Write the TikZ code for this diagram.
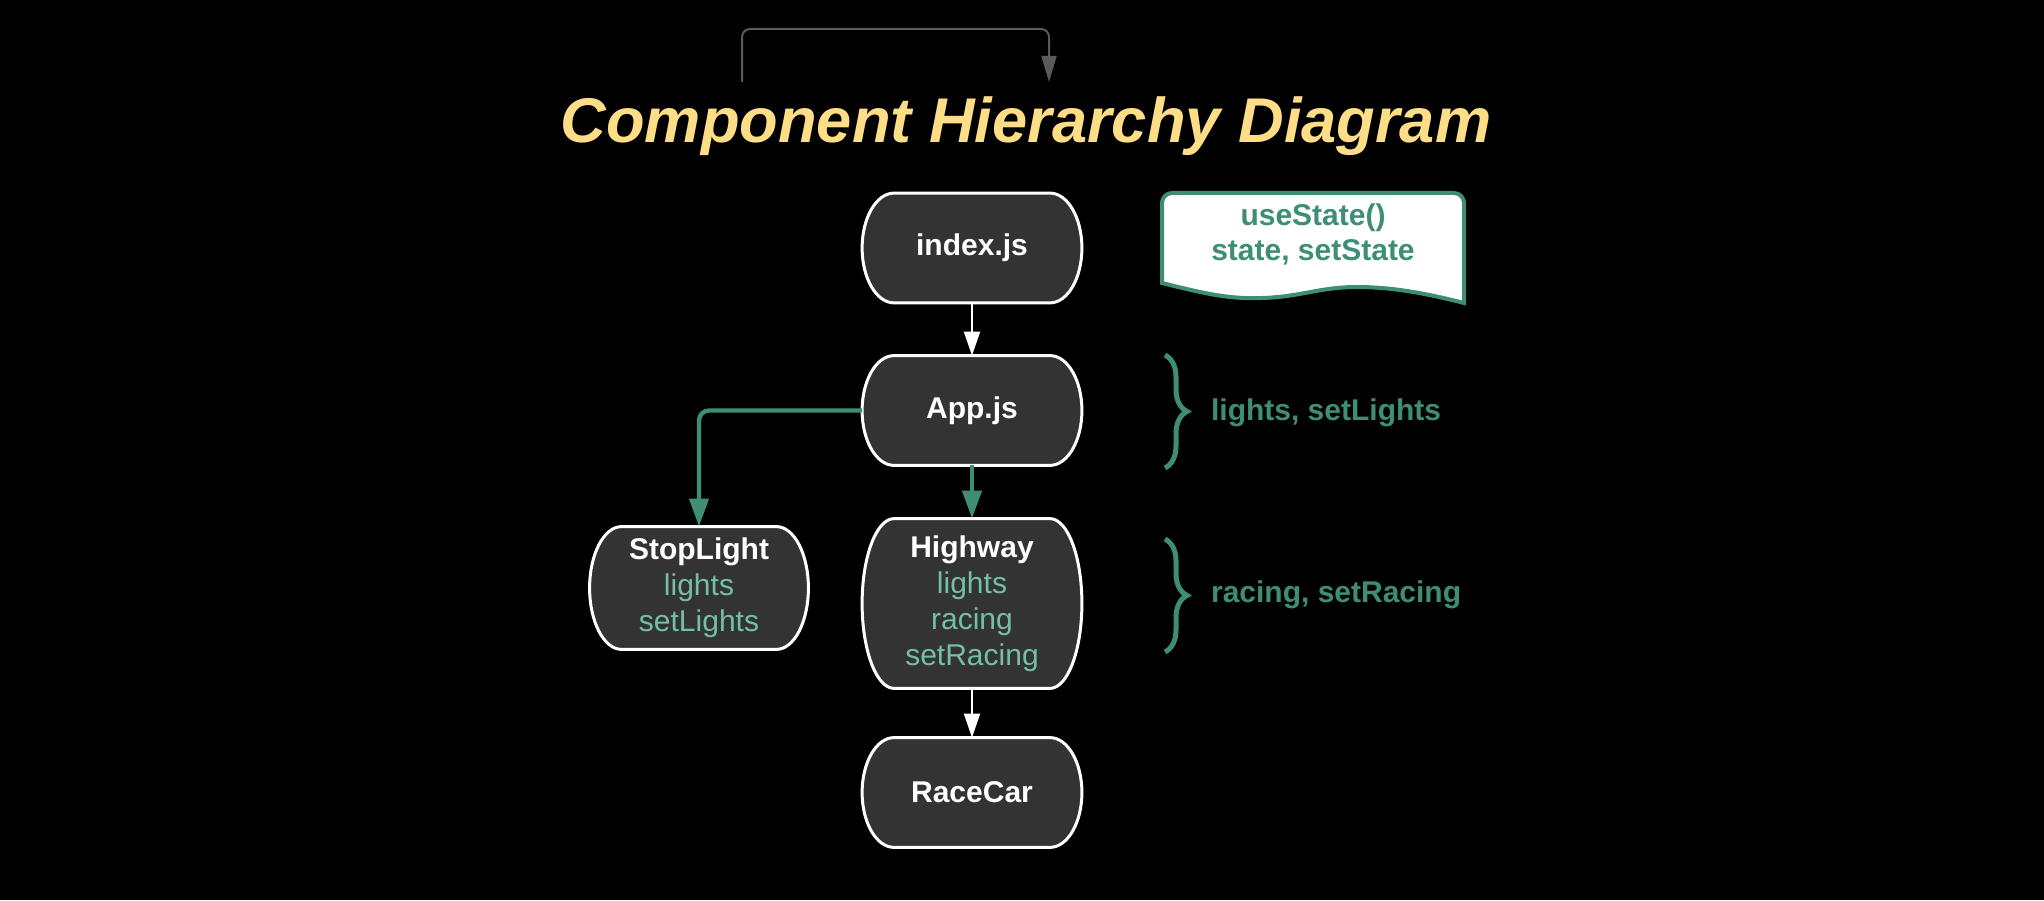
\documentclass[tikz,border=0pt]{standalone}
\usepackage{fontspec}
\setmainfont{Liberation Sans}
\usetikzlibrary{arrows.meta,calc,decorations.pathreplacing}

\definecolor{boxgray}{HTML}{333333}
\definecolor{hookgreen}{HTML}{3E8E76}
\definecolor{mint}{HTML}{74C0A7}
\definecolor{titleyellow}{HTML}{FDDD85}
\definecolor{linkgray}{HTML}{5A5A5A}

\pgfdeclarelayer{canvas}
\pgfdeclarelayer{shell}
\pgfsetlayers{canvas,shell,main}

% terminator outline with elliptic sides round a named node
\newcommand\compshell[1]{%
  \draw[draw=white, line width=1.5pt, fill=boxgray]
    let \p1=(#1.north west), \p2=(#1.south east), \n1={(\y1-\y2)/2} in
    (\x1+16pt,\y1) -- (\x2-16pt,\y1)
    arc[start angle=90, end angle=-90, x radius=16pt, y radius=\n1]
    -- (\x1+16pt,\y2)
    arc[start angle=270, end angle=90, x radius=16pt, y radius=\n1] -- cycle;}

\begin{document}
\begin{tikzpicture}[
  x=0.5pt, y=0.5pt,
  font=\fontsize{15pt}{18pt}\selectfont,
  comp/.style={align=center, text=white, minimum width=109.5pt, minimum height=54.5pt, inner sep=2pt},
  wedge/.style={-{Triangle[length=12pt,width=8pt]}, draw=white, line width=1pt},
  gedge/.style={-{Triangle[length=14pt,width=9.5pt]}, draw=hookgreen, line width=2.2pt, rounded corners=5pt},
  note/.style={text=hookgreen, font=\fontsize{15pt}{17.5pt}\selectfont\bfseries, align=center},
  brc/.style={decorate, decoration={brace, amplitude=11pt}, draw=hookgreen, line width=2.5pt}
]
\begin{pgfonlayer}{canvas}
  \fill[black] (0,0) rectangle (2044,900);
\end{pgfonlayer}
\useasboundingbox (0,0) rectangle (2044,900);

\node[anchor=base, text=titleyellow, font=\fontsize{31.6pt}{38pt}\selectfont\bfseries\itshape] (title) at (1026,757)
  {Component Hierarchy Diagram};

% free link above the title
\coordinate (loopA) at (742,818);
\coordinate (loopB) at (1049,818);
\draw[-{Triangle[length=13pt,width=7.5pt]}, draw=linkgray, line width=1pt, rounded corners=4pt]
  (loopA) -- ++(0,53) -| (loopB);

\node[comp] (idx) at (972,652) {\textbf{index.js}};
\node[comp] (app) at (972,489.5) {\textbf{App.js}};
\node[comp, minimum width=109pt, minimum height=61pt] (stop) at (699,312)
  {\textbf{StopLight}\\ \textcolor{mint}{lights}\\ \textcolor{mint}{setLights}};
\node[comp, minimum height=84.5pt] (hwy) at (972,296.5)
  {\textbf{Highway}\\ \textcolor{mint}{lights}\\ \textcolor{mint}{racing}\\ \textcolor{mint}{setRacing}};
\node[comp] (rc) at (972,107.5) {\textbf{RaceCar}};

\begin{pgfonlayer}{shell}
  \foreach \c in {idx,app,stop,hwy,rc} {\compshell{\c}}
\end{pgfonlayer}

\draw[wedge] (idx) -- (app);
\draw[gedge] (app.west) -| (stop.north);
\draw[gedge] (app) -- (hwy);
\draw[wedge] (hwy) -- (rc);

% state document
\node[note] (st) at (1313,666) {useState()\\ state, setState};
\begin{pgfonlayer}{shell}
  \draw[draw=hookgreen, line width=2pt, fill=white]
    (1162,617) -- (1162,697) arc[start angle=180, end angle=90, radius=5pt]
    -- (1454,707) arc[start angle=90, end angle=0, radius=5pt] -- (1464,597)
    .. controls (1440,603) and (1400,613) .. (1357,613)
    .. controls (1320,613) and (1300,603) .. (1262,602)
    .. controls (1230,601) and (1210,605) .. (1162,617) -- cycle;
\end{pgfonlayer}

% braces
\node[note, anchor=base west] (lnote) at (1204,479) {lights, setLights};
\node[note, anchor=base west] (rnote) at (1204,297) {racing, setRacing};
\draw[brc] (1165,545) -- (1165,432);
\draw[brc] (1165,361) -- (1165,248);
\end{tikzpicture}
\end{document}
